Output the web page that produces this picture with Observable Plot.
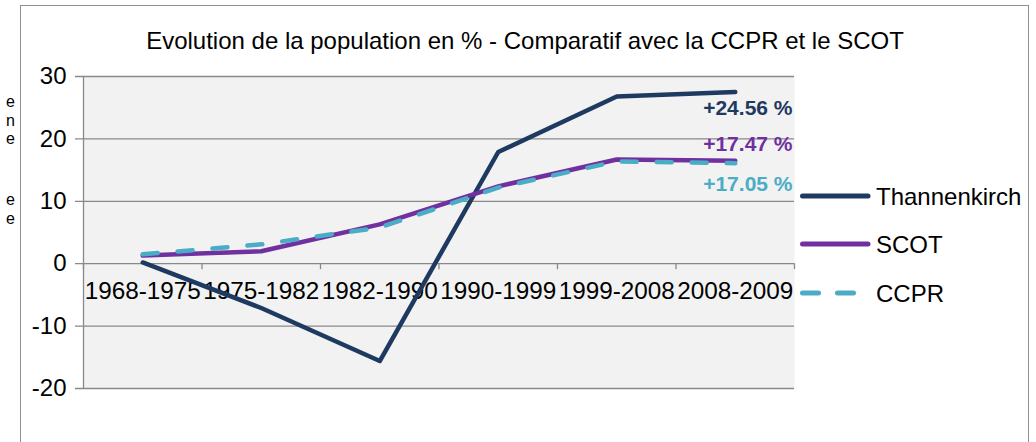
<!DOCTYPE html>
<html><head><meta charset="utf-8">
<script src="https://cdn.jsdelivr.net/npm/d3@7"></script>
<script src="https://cdn.jsdelivr.net/npm/@observablehq/plot@0.6"></script>
<style>
html,body{margin:0;padding:0;background:#fff;}
#wrap{position:relative;width:1036px;height:442px;overflow:hidden;font-family:"Liberation Sans",Arial,sans-serif;}
#border{position:absolute;left:20px;top:5px;width:1009px;height:470px;border:1.5px solid #8f8f8f;box-sizing:border-box;}
#chart{position:absolute;left:0;top:0;}
#over{position:absolute;left:0;top:0;}
</style></head><body>
<div id="wrap"><div id="border"></div><div id="chart"></div></div>
<script>
const title = "Evolution de la population en % - Comparatif avec la CCPR et le SCOT";
const periods = ["1968-1975","1975-1982","1982-1990","1990-1999","1999-2008","2008-2009"];
const seriesNames = ["Thannenkirch","SCOT","CCPR"];
const thannenkirch = [0.2, -7.1, -15.6, 17.9, 26.8, 27.5];
const scot = [1.3, 2.0, 6.3, 12.4, 16.7, 16.5];
const ccpr = [1.5, 3.1, 5.8, 12.2, 16.4, 16.1];
const endLabels = ["+24.56 %", "+17.47 %", "+17.05 %"];
const yTicks = [-20, -10, 0, 10, 20, 30];
const seriesColors = ["#1F3A60", "#7030A0", "#4BACC6"];
const leftFragments = ["e", "n", "e", "e", "e"];

const seriesValues = [thannenkirch, scot, ccpr];
const rows = [];
seriesNames.forEach((s, k) => seriesValues[k].forEach((v, i) => rows.push({series: s, i, period: periods[i], value: v})));
const boundaries = d3.range(periods.length + 1);
const grid = "#898989";
const font = "Liberation Sans, Arial, sans-serif";

const labelDy = [16, -16, 21];
const labelMarks = endLabels.map((lab, k) => Plot.text([lab], {
  x: () => periods.length, y: () => seriesValues[k][periods.length - 1],
  text: d => d, textAnchor: "end", dx: -2, dy: labelDy[k],
  fill: () => seriesNames[k], fontWeight: "bold", fontSize: 21
}));

const lineOpts = {x: d => d.i + 0.5, y: "value", z: "series", stroke: "series", strokeWidth: 4.5, strokeLinecap: "round", strokeLinejoin: "round"};

const chart = Plot.plot({
  width: 1036, height: 442,
  marginLeft: 83, marginRight: 242, marginTop: 76, marginBottom: 54,
  x: {domain: [0, periods.length], axis: null},
  y: {domain: [-20, 30], axis: null},
  color: {domain: seriesNames, range: seriesColors},
  style: {background: "transparent", fontFamily: font, overflow: "visible"},
  marks: [
    Plot.frame({fill: "#f2f2f2", stroke: null}),
    Plot.ruleY(yTicks, {stroke: grid, strokeWidth: 1.3, insetLeft: -8}),
    Plot.ruleX([0], {y1: -20, y2: 30, stroke: grid, strokeWidth: 1.3}),
    Plot.ruleX(boundaries, {y1: 0, y2: 0, insetBottom: -6, stroke: grid, strokeWidth: 1.3}),
    Plot.text(yTicks, {y: d => d, text: d => String(d), frameAnchor: "left", textAnchor: "end", dx: -17, fontSize: 24, fill: "#000"}),
    Plot.text(periods, {x: (d, i) => i + 0.5, y: () => 0, text: d => d, dy: 28, fontSize: 24.3, fill: "#000"}),
    Plot.line(rows, {...lineOpts, filter: d => d.series === "Thannenkirch"}),
    Plot.line(rows, {...lineOpts, filter: d => d.series === "SCOT"}),
    Plot.line(rows, {...lineOpts, filter: d => d.series === "CCPR", strokeDasharray: "15,20"}),
    ...labelMarks
  ]
});
document.getElementById("chart").appendChild(chart);

// overlay: title, legend, clipped neighbouring text
const over = d3.select("#wrap").append("svg").attr("id", "over")
  .attr("width", 1036).attr("height", 442).style("font-family", font);
over.append("text").attr("x", 525).attr("y", 49).attr("text-anchor", "middle")
  .attr("font-size", 24).attr("fill", "#000").text(title);

const legendY = [196, 244, 293];
seriesNames.forEach((s, k) => {
  const g = over.append("g").attr("transform", `translate(0,${legendY[k]})`);
  g.append("line").attr("x1", 802.5).attr("x2", 868).attr("y1", 0).attr("y2", 0)
    .attr("stroke", seriesColors[k]).attr("stroke-width", 5).attr("stroke-linecap", "round")
    .attr("stroke-dasharray", s === "CCPR" ? "16,19" : null);
  g.append("text").attr("x", 876).attr("y", 0).attr("dy", "0.36em")
    .attr("font-size", 24).attr("fill", "#000").text(s);
});

// fragments of neighbouring text cut by the left edge
const fragY = [107, 126, 144, 205, 224];
leftFragments.forEach((t, k) => {
  over.append("text").attr("x", 15).attr("y", fragY[k]).attr("text-anchor", "end")
    .attr("font-size", 16).attr("fill", "#000").text(t);
});
</script>
</body></html>
